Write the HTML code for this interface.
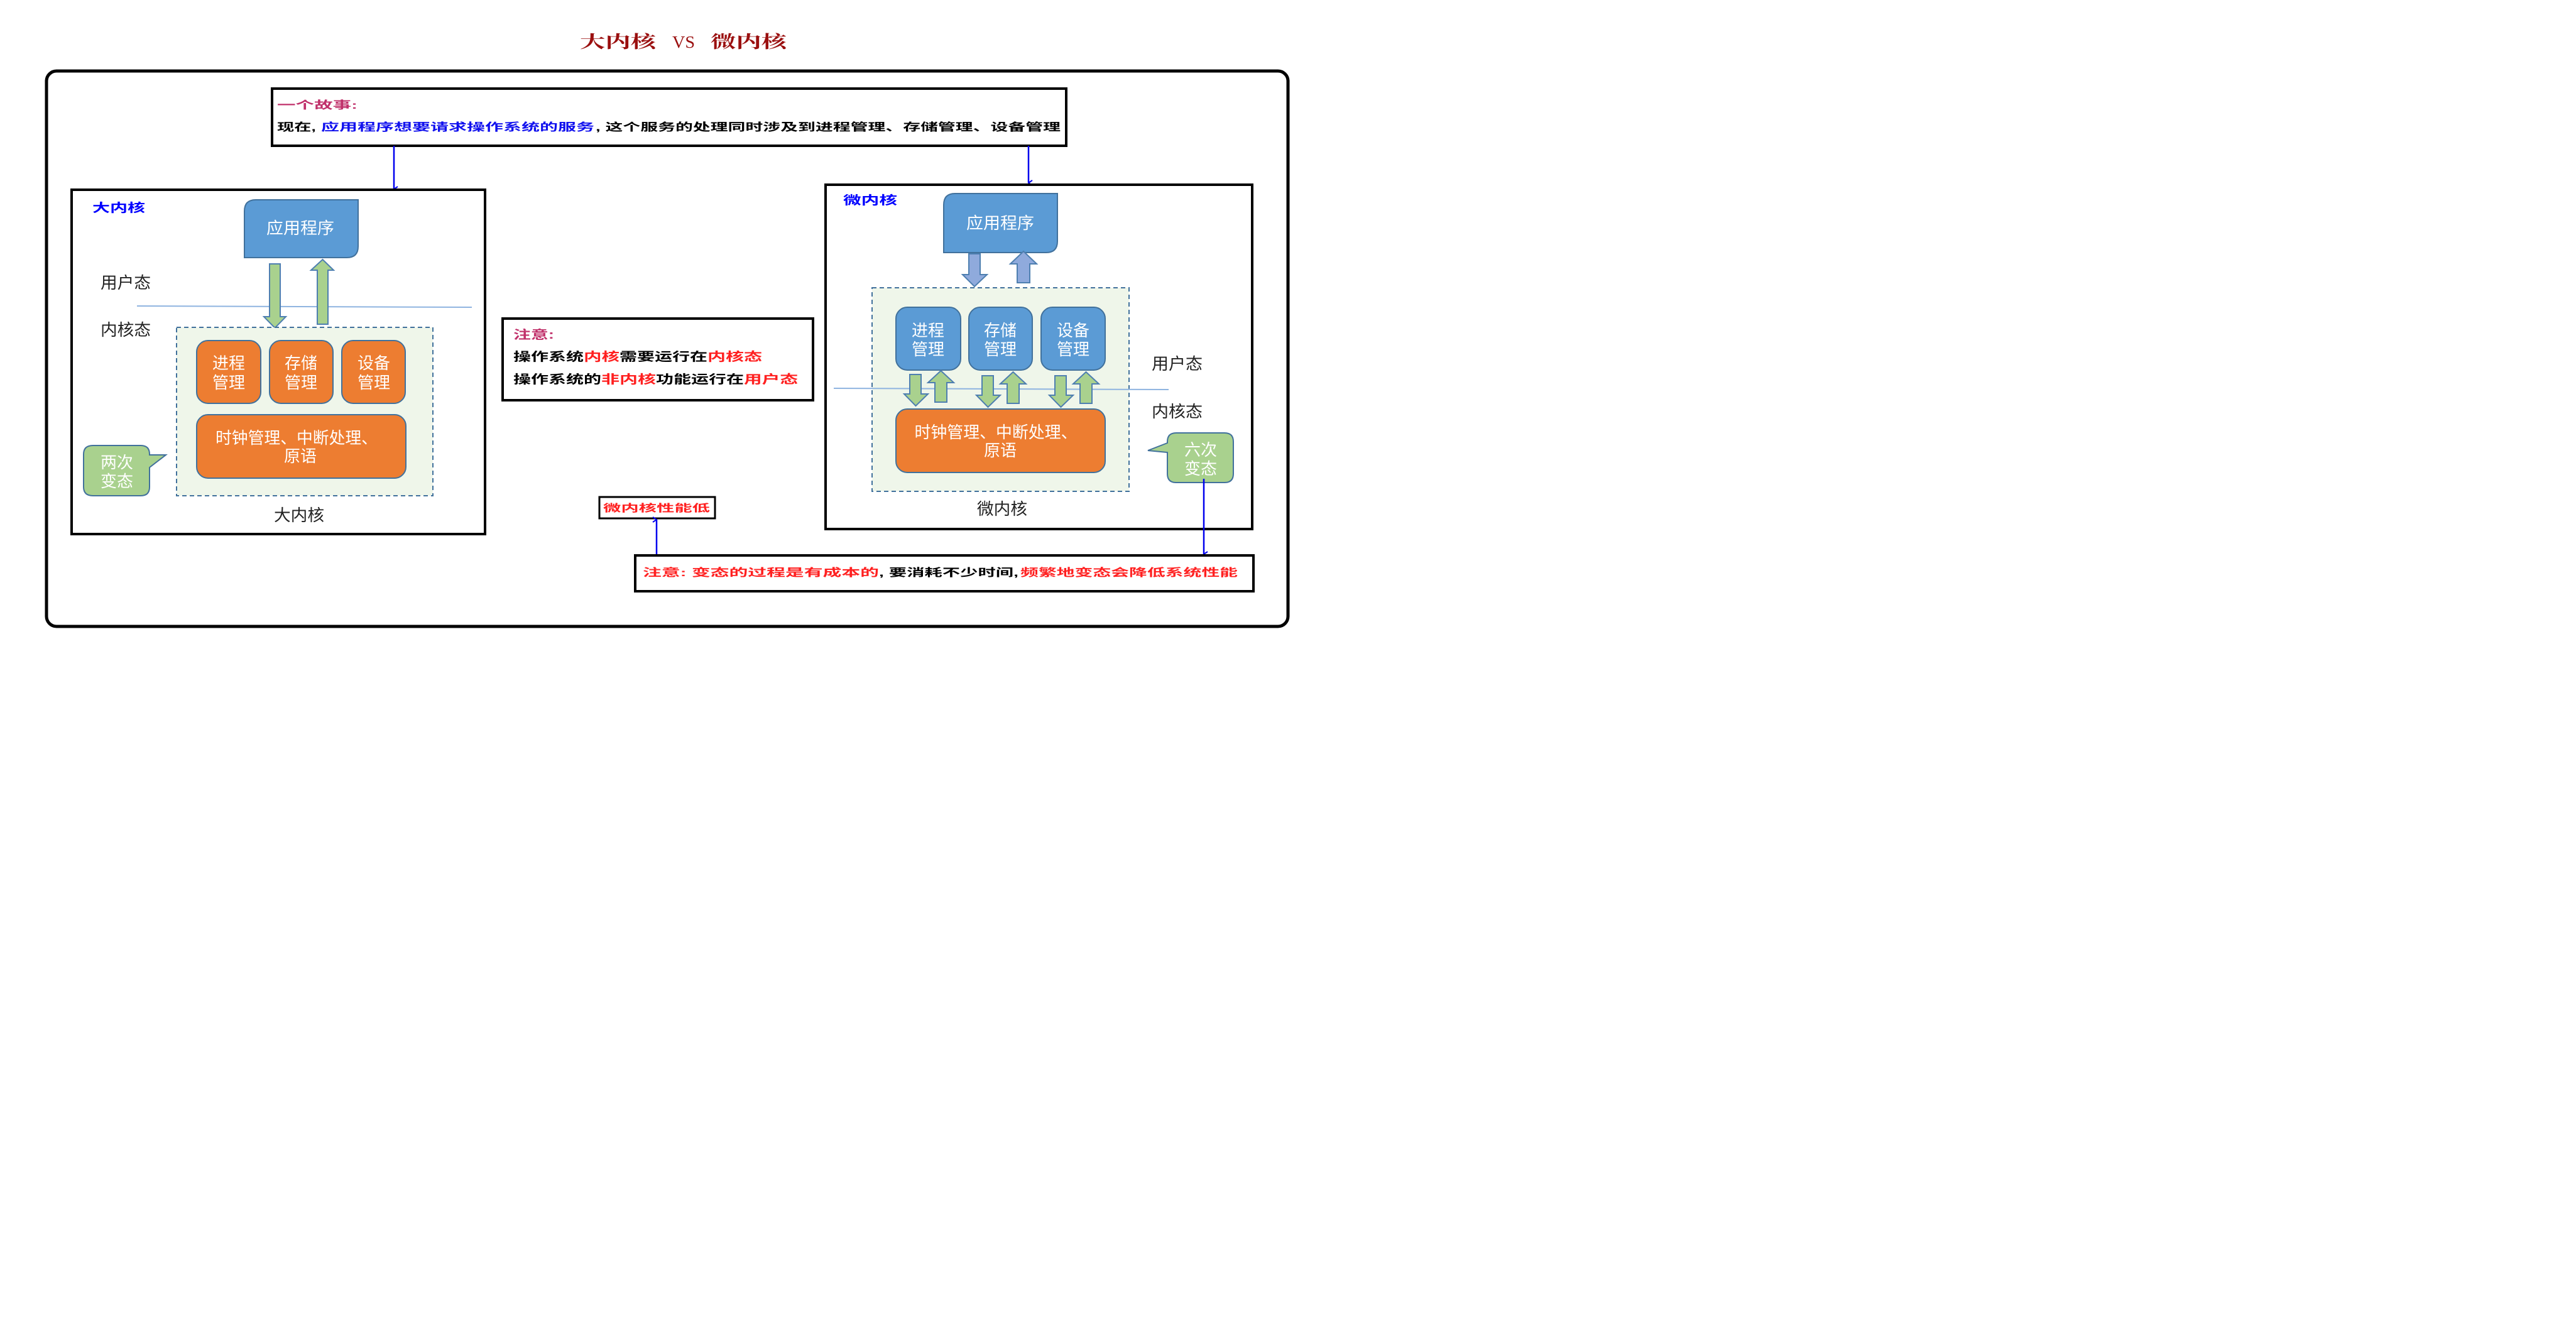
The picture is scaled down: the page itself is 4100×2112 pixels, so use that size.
<!DOCTYPE html>
<html><head><meta charset="utf-8"><style>
html,body{margin:0;padding:0;background:#fff;width:4100px;height:2112px;overflow:hidden}
svg{display:block}
text{font-family:"Liberation Sans","Noto Sans CJK SC",sans-serif}
.b{font-weight:bold}
.w{fill:#fff}
</style></head><body>
<svg width="4100" height="2112" viewBox="0 0 4100 2112" xmlns="http://www.w3.org/2000/svg">
<defs>
<marker id="ah" markerWidth="10" markerHeight="10" refX="5" refY="9" orient="auto-start-reverse" markerUnits="userSpaceOnUse">
<path d="M1,3 L5,9 L9,3" fill="none" stroke="#0000ee" stroke-width="2"/>
</marker>
</defs>
<!-- Title -->
<g style="font-family:'Liberation Serif','Noto Serif CJK SC',serif" font-weight="bold" fill="#9a0f0f" font-size="27">
<text x="923" y="76" textLength="121" lengthAdjust="spacingAndGlyphs" style="font-family:'Liberation Serif','Noto Serif CJK SC',serif">大内核</text>
<text x="1070" y="76" textLength="36" lengthAdjust="spacingAndGlyphs" font-weight="normal" style="font-family:'Liberation Serif',serif">VS</text>
<text x="1131" y="76" textLength="121" lengthAdjust="spacingAndGlyphs" style="font-family:'Liberation Serif','Noto Serif CJK SC',serif">微内核</text>
</g>
<!-- outer -->
<rect x="74" y="113" width="1976" height="884" rx="16" fill="none" stroke="#000" stroke-width="5"/>
<!-- story -->
<rect x="433" y="141" width="1264" height="91" fill="#fff" stroke="#000" stroke-width="4"/>
<text x="441" y="173" font-size="17" class="b" fill="#c0306a" textLength="128" lengthAdjust="spacingAndGlyphs">一个故事:</text>
<text x="441" y="208" font-size="17" class="b" fill="#000" textLength="62" lengthAdjust="spacingAndGlyphs">现在,</text>
<text x="511" y="208" font-size="17" class="b" fill="#1010ee" textLength="435" lengthAdjust="spacingAndGlyphs">应用程序想要请求操作系统的服务</text>
<text x="948" y="208" font-size="17" class="b" fill="#000" textLength="740" lengthAdjust="spacingAndGlyphs">, 这个服务的处理同时涉及到进程管理、存储管理、设备管理</text>
<line x1="627" y1="232" x2="627" y2="301" stroke="#0000ee" stroke-width="2.5" marker-end="url(#ah)"/>
<line x1="1637" y1="232" x2="1637" y2="291" stroke="#0000ee" stroke-width="2.5" marker-end="url(#ah)"/>

<!-- LEFT BOX -->
<rect x="114" y="302" width="658" height="548" fill="#fff" stroke="#000" stroke-width="4"/>
<text x="147" y="337" font-size="19" class="b" fill="#0000ff" textLength="84" lengthAdjust="spacingAndGlyphs">大内核</text>
<path d="M407,318 H570 V392 Q570,410 552,410 H389 V336 Q389,318 407,318 Z" fill="#5b9bd5" stroke="#41719c" stroke-width="2"/>
<text x="478" y="372" font-size="26" class="w" text-anchor="middle" textLength="108" lengthAdjust="spacingAndGlyphs">应用程序</text>
<line x1="218" y1="487" x2="751" y2="489" stroke="#8fb4e0" stroke-width="2"/>
<text x="160" y="459" font-size="26" fill="#222" textLength="80" lengthAdjust="spacingAndGlyphs">用户态</text>
<text x="160" y="534" font-size="26" fill="#222" textLength="80" lengthAdjust="spacingAndGlyphs">内核态</text>
<polygon points="429,420 446,420 446,504 455,504 437.5,522 420,504 429,504" fill="#a9d18e" stroke="#4e7fb0" stroke-width="2"/>
<polygon points="505,516 522,516 522,430 531,430 513.5,413 495,430 505,430" fill="#a9d18e" stroke="#4e7fb0" stroke-width="2"/>
<rect x="281" y="521" width="408" height="268" fill="#eff6ea" stroke="#41719c" stroke-width="2" stroke-dasharray="7,5"/>
<g fill="#ed7d31" stroke="#41719c" stroke-width="2">
<rect x="313" y="542" width="102" height="100" rx="18"/>
<rect x="429" y="542" width="101" height="100" rx="18"/>
<rect x="544" y="542" width="101" height="100" rx="18"/>
<rect x="313" y="660" width="333" height="101" rx="18"/>
</g>
<g font-size="26" class="w" text-anchor="middle">
<text x="364" y="587" textLength="52" lengthAdjust="spacingAndGlyphs">进程</text>
<text x="364" y="618" textLength="52" lengthAdjust="spacingAndGlyphs">管理</text>
<text x="479" y="587" textLength="52" lengthAdjust="spacingAndGlyphs">存储</text>
<text x="479" y="618" textLength="52" lengthAdjust="spacingAndGlyphs">管理</text>
<text x="595" y="587" textLength="52" lengthAdjust="spacingAndGlyphs">设备</text>
<text x="595" y="618" textLength="52" lengthAdjust="spacingAndGlyphs">管理</text>
<text x="472" y="706" textLength="258" lengthAdjust="spacingAndGlyphs">时钟管理、中断处理、</text>
<text x="478" y="735" textLength="52" lengthAdjust="spacingAndGlyphs">原语</text>
</g>
<path d="M148,709 H224 Q238,709 238,723 V724 L264,724 L238,744 V775 Q238,789 224,789 H148 Q133,789 133,775 V723 Q133,709 148,709 Z" fill="#a9d18e" stroke="#41719c" stroke-width="2"/>
<text x="186" y="745" font-size="26" class="w" text-anchor="middle" textLength="52" lengthAdjust="spacingAndGlyphs">两次</text>
<text x="186" y="775" font-size="26" class="w" text-anchor="middle" textLength="52" lengthAdjust="spacingAndGlyphs">变态</text>
<text x="476" y="829" font-size="26" fill="#222" text-anchor="middle" textLength="80" lengthAdjust="spacingAndGlyphs">大内核</text>

<!-- MIDDLE NOTE -->
<rect x="800" y="507" width="494" height="130" fill="#fff" stroke="#000" stroke-width="4"/>
<g font-size="19" class="b">
<text x="817" y="539" fill="#c0306a" textLength="65" lengthAdjust="spacingAndGlyphs">注意:</text>
<text x="817" y="574" fill="#000" textLength="112" lengthAdjust="spacingAndGlyphs">操作系统</text>
<text x="929" y="574" fill="#ff2020" textLength="57" lengthAdjust="spacingAndGlyphs">内核</text>
<text x="986" y="574" fill="#000" textLength="140" lengthAdjust="spacingAndGlyphs">需要运行在</text>
<text x="1126" y="574" fill="#ff2020" textLength="87" lengthAdjust="spacingAndGlyphs">内核态</text>
<text x="817" y="610" fill="#000" textLength="140" lengthAdjust="spacingAndGlyphs">操作系统的</text>
<text x="957" y="610" fill="#ff2020" textLength="87" lengthAdjust="spacingAndGlyphs">非内核</text>
<text x="1044" y="610" fill="#000" textLength="140" lengthAdjust="spacingAndGlyphs">功能运行在</text>
<text x="1184" y="610" fill="#ff2020" textLength="86" lengthAdjust="spacingAndGlyphs">用户态</text>
</g>

<!-- RIGHT BOX -->
<rect x="1314" y="294" width="679" height="548" fill="#fff" stroke="#000" stroke-width="4"/>
<text x="1342" y="325" font-size="19" class="b" fill="#0000ff" textLength="86" lengthAdjust="spacingAndGlyphs">微内核</text>
<path d="M1520,308 H1683 V384 Q1683,402 1665,402 H1502 V326 Q1502,308 1520,308 Z" fill="#5b9bd5" stroke="#41719c" stroke-width="2"/>
<text x="1592" y="364" font-size="26" class="w" text-anchor="middle" textLength="108" lengthAdjust="spacingAndGlyphs">应用程序</text>
<polygon points="1542,404 1560,404 1560,437 1571,437 1551,456 1532,437 1542,437" fill="#8faadc" stroke="#4e7fb0" stroke-width="2"/>
<polygon points="1619,450 1639,450 1639,420 1650,420 1629,400 1608,420 1619,420" fill="#8faadc" stroke="#4e7fb0" stroke-width="2"/>
<rect x="1388" y="458" width="409" height="324" fill="#eff6ea" stroke="#41719c" stroke-width="2" stroke-dasharray="7,5"/>
<g fill="#5b9bd5" stroke="#41719c" stroke-width="2">
<rect x="1426" y="489" width="103" height="100" rx="18"/>
<rect x="1542" y="489" width="101" height="100" rx="18"/>
<rect x="1657" y="489" width="102" height="100" rx="18"/>
</g>
<line x1="1327" y1="618" x2="1860" y2="620" stroke="#8fb4e0" stroke-width="2"/>
<g fill="#a9d18e" stroke="#4e7fb0" stroke-width="2">
<polygon points="1448,596 1466,596 1466,627 1477,627 1457.5,646 1439,627 1448,627"/>
<polygon points="1488,640 1507,640 1507,609 1518,609 1497.5,590 1477,609 1488,609"/>
<polygon points="1563,598 1581,598 1581,629 1592,629 1572.5,648 1554,629 1563,629"/>
<polygon points="1603,642 1622,642 1622,611 1633,611 1612.5,592 1592,611 1603,611"/>
<polygon points="1679,598 1697,598 1697,629 1708,629 1688.5,648 1670,629 1679,629"/>
<polygon points="1719,642 1738,642 1738,611 1749,611 1728.5,592 1708,611 1719,611"/>
</g>
<rect x="1426" y="651" width="333" height="101" rx="18" fill="#ed7d31" stroke="#41719c" stroke-width="2"/>
<g font-size="26" class="w" text-anchor="middle">
<text x="1477" y="535" textLength="52" lengthAdjust="spacingAndGlyphs">进程</text>
<text x="1477" y="565" textLength="52" lengthAdjust="spacingAndGlyphs">管理</text>
<text x="1592" y="535" textLength="52" lengthAdjust="spacingAndGlyphs">存储</text>
<text x="1592" y="565" textLength="52" lengthAdjust="spacingAndGlyphs">管理</text>
<text x="1708" y="535" textLength="52" lengthAdjust="spacingAndGlyphs">设备</text>
<text x="1708" y="565" textLength="52" lengthAdjust="spacingAndGlyphs">管理</text>
<text x="1585" y="697" textLength="259" lengthAdjust="spacingAndGlyphs">时钟管理、中断处理、</text>
<text x="1592" y="726" textLength="52" lengthAdjust="spacingAndGlyphs">原语</text>
</g>
<text x="1833" y="588" font-size="26" fill="#222" textLength="81" lengthAdjust="spacingAndGlyphs">用户态</text>
<text x="1833" y="664" font-size="26" fill="#222" textLength="81" lengthAdjust="spacingAndGlyphs">内核态</text>
<path d="M1872,689 H1949 Q1963,689 1963,703 V754 Q1963,768 1949,768 H1872 Q1858,768 1858,754 V720 L1827,717 L1858,705 V703 Q1858,689 1872,689 Z" fill="#a9d18e" stroke="#41719c" stroke-width="2"/>
<text x="1911" y="725" font-size="26" class="w" text-anchor="middle" textLength="52" lengthAdjust="spacingAndGlyphs">六次</text>
<text x="1911" y="755" font-size="26" class="w" text-anchor="middle" textLength="52" lengthAdjust="spacingAndGlyphs">变态</text>
<text x="1595" y="819" font-size="26" fill="#222" text-anchor="middle" textLength="80" lengthAdjust="spacingAndGlyphs">微内核</text>

<!-- perf low -->
<rect x="954" y="791" width="184" height="34" fill="#fff" stroke="#000" stroke-width="3"/>
<text x="960" y="814" font-size="16" class="b" fill="#ff2020" textLength="170" lengthAdjust="spacingAndGlyphs">微内核性能低</text>
<line x1="1045" y1="883" x2="1045" y2="827" stroke="#0000ee" stroke-width="2.5" marker-end="url(#ah)"/>
<line x1="1916" y1="762" x2="1916" y2="882" stroke="#0000ee" stroke-width="2.5" marker-end="url(#ah)"/>
<!-- bottom note -->
<rect x="1011" y="884" width="984" height="57" fill="#fff" stroke="#000" stroke-width="4"/>
<g font-size="17" class="b">
<text x="1023" y="917" fill="#ff2020" textLength="376" lengthAdjust="spacingAndGlyphs">注意: 变态的过程是有成本的</text>
<text x="1399" y="917" fill="#000" textLength="222" lengthAdjust="spacingAndGlyphs">, 要消耗不少时间,</text>
<text x="1624" y="917" fill="#ff2020" textLength="346" lengthAdjust="spacingAndGlyphs">频繁地变态会降低系统性能</text>
</g>
</svg>
</body></html>
